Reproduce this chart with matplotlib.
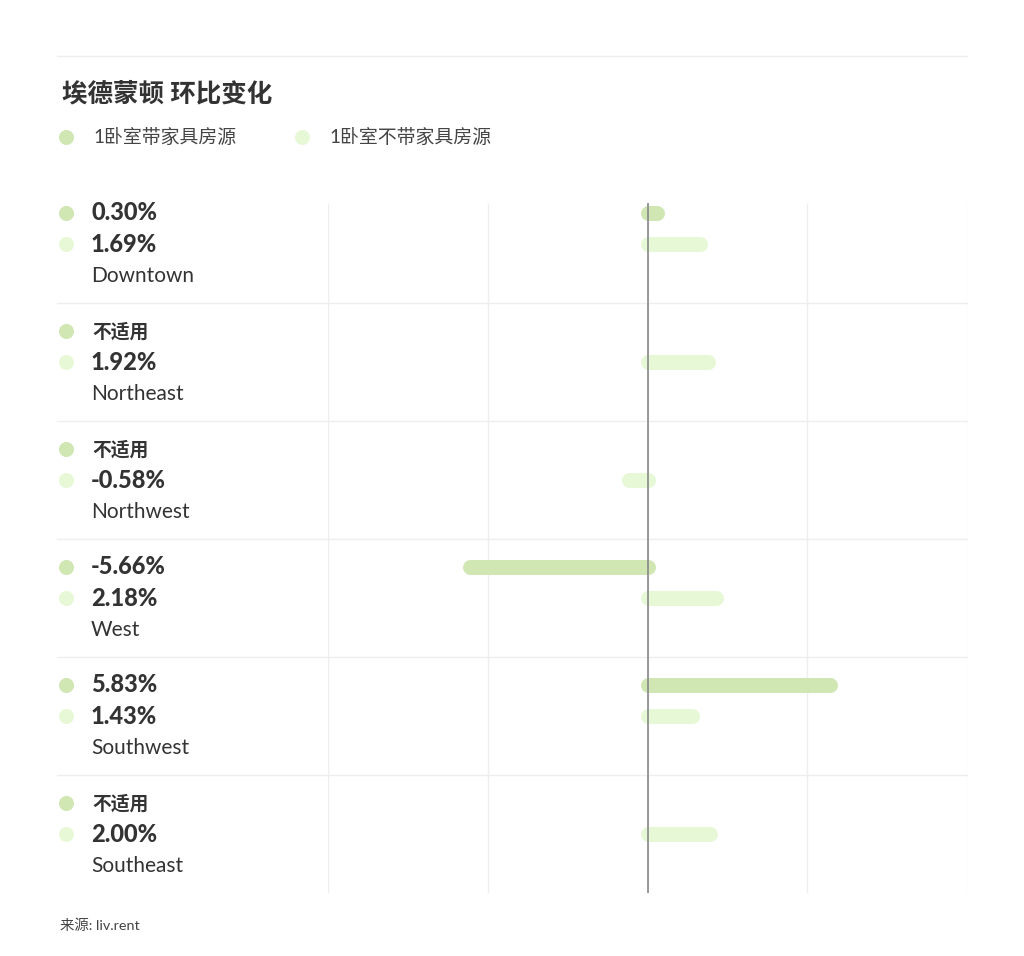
import numpy as np
import matplotlib
matplotlib.use('Agg')
import matplotlib.pyplot as plt
from matplotlib import transforms

plt.rcParams['font.family'] = ['Lato', 'Noto Sans CJK SC', 'DejaVu Sans']

title = '埃德蒙顿 环比变化'
series_names = ['1卧室带家具房源', '1卧室不带家具房源']
districts = ['Downtown', 'Northeast', 'Northwest', 'West', 'Southwest', 'Southeast']
furnished = [0.30, None, None, -5.66, 5.83, None]
unfurnished = [1.69, 1.92, -0.58, 2.18, 1.43, 2.00]
source = '来源: liv.rent'

colors = ['#d0e6b3', '#e7f8d7']
text_dark = '#333333'
W, H = 1024, 956

fig = plt.figure(figsize=(W / 100, H / 100), dpi=100)
ax = fig.add_axes([328 / W, 1 - 893 / H, 639 / W, 708 / H])
lo, hi = -10.2, 10.2
ax.set_xlim(lo, hi)
ax.set_ylim(6, 0)
ax.axis('off')

row_h = 118.0
off = [28 / row_h, 59 / row_h, 91 / row_h]
grid_top = 18 / row_h

# vertical grid
for gx in np.linspace(lo, hi, 5):
    ax.vlines(gx, grid_top, 6, color='#eeeeee', lw=1, zorder=0)
ax.vlines(0, grid_top, 6, color='#888888', lw=1.2, zorder=3)

# row separators spanning left text column
sep = transforms.blended_transform_factory(fig.transFigure, ax.transData)
for k in range(1, 6):
    ax.plot([57 / W, 967 / W], [k, k], color='#eeeeee', lw=1, transform=sep,
            clip_on=False, zorder=0)

# top rule
fig.add_artist(plt.Line2D([57 / W, 967 / W], [1 - 56 / H, 1 - 56 / H],
                          color='#eeeeee', lw=1))

bar_lw = 15 * 72 / 100
for k, name in enumerate(districts):
    for j, vals in enumerate([furnished, unfurnished]):
        v = vals[k]
        y = k + off[j]
        ax.scatter([66 / W], [y], s=117, color=colors[j], transform=sep,
                   clip_on=False, linewidths=0, zorder=4)
        if v is None:
            ax.text(92 / W, y, '不适用', transform=sep, fontsize=13.5,
                    fontweight='bold', color=text_dark, va='center', ha='left')
        else:
            ax.text(91 / W, y, f'{v:.2f}%', transform=sep, fontsize=17,
                    fontweight='black', color=text_dark, va='center', ha='left')
            ax.plot([0, v], [y, y], color=colors[j], lw=bar_lw,
                    solid_capstyle='round', zorder=2)
    ax.text(91 / W, k + off[2], name, transform=sep, fontsize=15,
            color=text_dark, va='center', ha='left')

# title and legend
fig.text(62 / W, 1 - 93 / H, title, fontsize=18.4, fontweight='bold',
         color=text_dark, va='center', ha='left')
for j, (lx, tx) in enumerate([(66, 93), (302, 329)]):
    fig.add_artist(plt.Line2D([lx / W], [1 - 137 / H], marker='o', markersize=10.8,
                              markerfacecolor=colors[j], markeredgewidth=0,
                              linestyle='none'))
    fig.text(tx / W, 1 - 137 / H, series_names[j], fontsize=13.6,
             color='#444444', va='center', ha='left')

fig.text(60 / W, 1 - 925 / H, source, fontsize=10.4, color='#444444',
         va='center', ha='left')

fig.savefig('out.png', dpi=100, facecolor='white')
